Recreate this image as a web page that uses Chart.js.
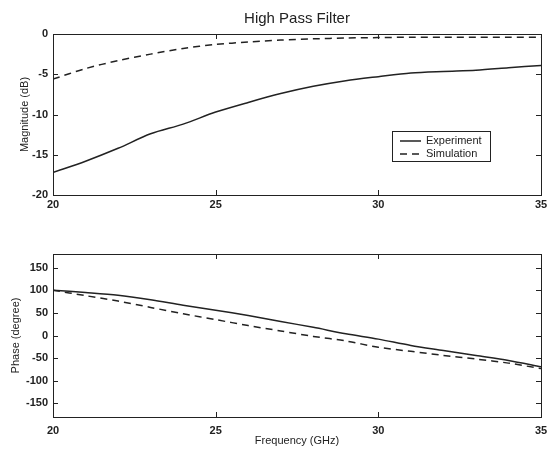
<!DOCTYPE html>
<html>
<head>
<meta charset="utf-8">
<script src="https://cdn.jsdelivr.net/npm/chart.js@4/dist/chart.umd.min.js"></script>
<style>
  html, body { margin: 0; padding: 0; background: #fff; }
  #wrap { position: relative; width: 557px; height: 451px; }
  #top { position: absolute; left: 0; top: 0; }
  #bottom { position: absolute; left: 0; top: 220px; }
</style>
</head>
<body>
<div id="wrap">
  <canvas id="top" width="557" height="220"></canvas>
  <canvas id="bottom" width="557" height="231"></canvas>
</div>
<script>
// Frequency points (GHz)
const freq = [20, 21, 22, 23, 24, 25, 26, 27, 28, 29, 30, 31, 32, 33, 34, 35];
// Magnitude (dB)
const magExperiment = [-17.2, -15.8, -14.2, -12.4, -11.2, -9.7, -8.5, -7.4, -6.5, -5.8, -5.3, -4.85, -4.65, -4.5, -4.2, -3.9];
const magSimulation = [-5.6, -4.3, -3.3, -2.5, -1.8, -1.3, -1.0, -0.75, -0.6, -0.5, -0.45, -0.4, -0.4, -0.4, -0.4, -0.4];
// Phase (degree)
const phaseExperiment = [100, 95, 89, 79, 67, 56, 44, 31, 18, 4, -8, -22, -33, -44, -55, -69];
const phaseSimulation = [100, 88, 76, 62, 48, 35, 22, 10, -2, -12, -26, -35, -44, -52, -61, -73];
// tick labels
const freqTicks = [20, 25, 30, 35];
const magTicks = [-20, -15, -10, -5, 0];
const phaseTicks = [-150, -100, -50, 0, 50, 100, 150];
const seriesNames = ['Experiment', 'Simulation'];

const ink = '#222';
const tickFont = { family: 'Liberation Sans', size: 11, weight: 'bold' };
const labelFont = { family: 'Liberation Sans', size: 11 };

function pts(ys) {
    return freq.map((x, i) => ({ x: x, y: ys[i] }));
}

// frame box + inward tick marks, like the matlab axes
const framePlugin = {
    id: 'frame',
    afterDraw(chart) {
        const { ctx, chartArea: a, scales } = chart;
        ctx.save();
        ctx.strokeStyle = ink;
        ctx.lineWidth = 1;
        ctx.strokeRect(a.left + 0.5, a.top + 0.5, a.right - a.left, a.bottom - a.top);
        const len = 5;
        ctx.beginPath();
        scales.x.ticks.forEach(t => {
            const px = Math.round(scales.x.getPixelForValue(t.value)) + 0.5;
            ctx.moveTo(px, a.bottom); ctx.lineTo(px, a.bottom - len);
            ctx.moveTo(px, a.top); ctx.lineTo(px, a.top + len);
        });
        scales.y.ticks.forEach(t => {
            const py = Math.round(scales.y.getPixelForValue(t.value)) + 0.5;
            ctx.moveTo(a.left, py); ctx.lineTo(a.left + len, py);
            ctx.moveTo(a.right, py); ctx.lineTo(a.right - len, py);
        });
        ctx.stroke();
        // title centred over the axes, not over the canvas
        if (chart.options.plotTitle) {
            ctx.font = '15px "Liberation Sans"';
            ctx.fillStyle = ink;
            ctx.textAlign = 'center';
            ctx.textBaseline = 'middle';
            ctx.fillText(chart.options.plotTitle, (a.left + a.right) / 2, 19);
        }
        ctx.restore();
    }
};

// legend box inside the top plot
const legendBox = {
    id: 'legendBox',
    afterDraw(chart) {
        const ctx = chart.ctx;
        const x = 392, y = 131, w = 98, h = 30;
        ctx.save();
        ctx.fillStyle = '#fff';
        ctx.fillRect(x, y, w, h);
        ctx.strokeStyle = ink;
        ctx.lineWidth = 1;
        ctx.strokeRect(x + 0.5, y + 0.5, w, h);
        ctx.font = '11px "Liberation Sans"';
        ctx.fillStyle = ink;
        ctx.textBaseline = 'middle';
        chart.data.datasets.forEach((ds, i) => {
            const ly = y + 10 + i * 13;
            ctx.setLineDash(ds.borderDash || []);
            ctx.lineWidth = ds.borderWidth;
            ctx.beginPath();
            ctx.moveTo(x + 8, ly); ctx.lineTo(x + 29, ly);
            ctx.stroke();
            ctx.setLineDash([]);
            ctx.fillText(ds.label, x + 34, ly);
        });
        ctx.restore();
    }
};

function makeChart(el, opts) {
    return new Chart(el, {
        type: 'line',
        data: {
            datasets: [{
                label: seriesNames[0],
                data: pts(opts.exp),
                borderColor: ink,
                borderWidth: 1.5,
                pointRadius: 0,
                tension: 0.3
            }, {
                label: seriesNames[1],
                data: pts(opts.sim),
                borderColor: ink,
                borderWidth: 1.5,
                borderDash: [7, 5],
                pointRadius: 0,
                tension: 0.3
            }]
        },
        options: {
            responsive: false,
            animation: false,
            plotTitle: opts.title,
            layout: { padding: { top: opts.padTop, right: 16, left: 0, bottom: 0 } },
            plugins: {
                legend: { display: false },
                tooltip: { enabled: false },
                title: { display: false }
            },
            scales: {
                x: {
                    type: 'linear',
                    min: 20, max: 35,
                    afterBuildTicks: s => { s.ticks = freqTicks.map(v => ({ value: v })); },
                    afterFit: s => { s.height = opts.xHeight; },
                    grid: { display: false, drawTicks: false },
                    border: { display: false },
                    ticks: { color: ink, font: tickFont, padding: opts.xPad, maxRotation: 0 },
                    title: opts.xTitle ? {
                        display: true, text: opts.xTitle, color: ink, font: labelFont,
                        padding: { top: 0, bottom: 3 }
                    } : { display: false }
                },
                y: {
                    min: opts.ymin, max: opts.ymax,
                    afterBuildTicks: s => { s.ticks = opts.yTicks.map(v => ({ value: v })); },
                    afterFit: s => { s.width = 53; },
                    grid: { display: false, drawTicks: false },
                    border: { display: false },
                    ticks: { color: ink, font: tickFont, padding: 5 },
                    title: {
                        display: true, text: opts.yTitle, color: ink, font: labelFont,
                        padding: { top: opts.yTitlePad, bottom: 0 }
                    }
                }
            }
        },
        plugins: opts.legend ? [framePlugin, legendBox] : [framePlugin]
    });
}

makeChart(document.getElementById('top'), {
    exp: magExperiment, sim: magSimulation,
    ymin: -20, ymax: 0, yTicks: magTicks,
    yTitle: 'Magnitude (dB)', yTitlePad: 18,
    title: 'High Pass Filter', padTop: 34,
    xHeight: 25, xPad: 3, legend: true
});

makeChart(document.getElementById('bottom'), {
    exp: phaseExperiment, sim: phaseSimulation,
    ymin: -180, ymax: 180, yTicks: phaseTicks,
    yTitle: 'Phase (degree)', yTitlePad: 9,
    xTitle: 'Frequency (GHz)', padTop: 34,
    xHeight: 34, xPad: 7, legend: false
});
</script>
</body>
</html>
